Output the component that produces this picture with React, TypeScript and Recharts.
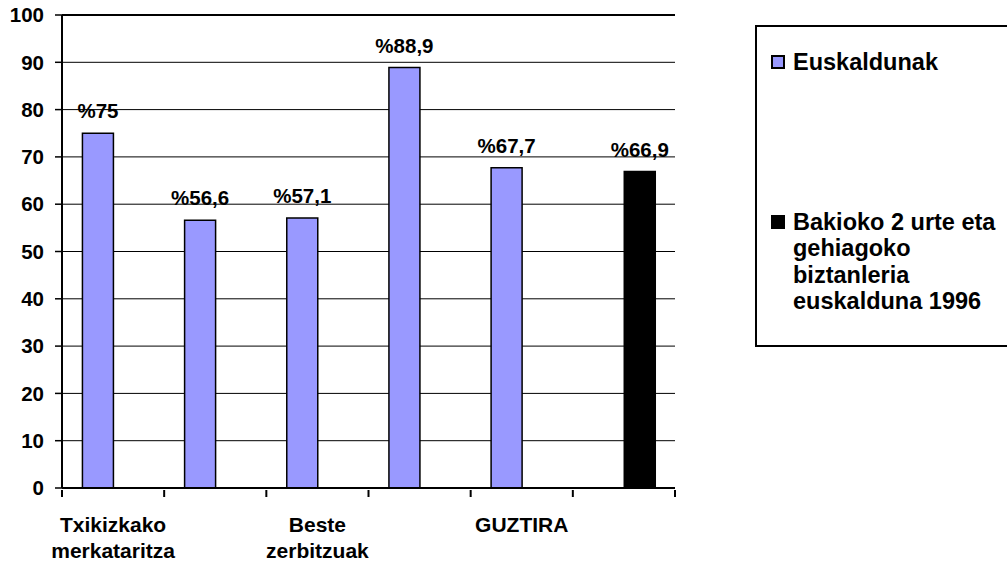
import { BarChart, Bar, XAxis, YAxis, CartesianGrid, LabelList, ReferenceLine } from 'recharts';

// category labels (only every other one carries text)
const categories = ['Txikizkako\nmerkataritza', '', 'Beste\nzerbitzuak', '', 'GUZTIRA', ''];
const euskaldunak = [75, 56.6, 57.1, 88.9, 67.7, null];
const bakioko1996 = [null, null, null, null, null, 66.9];
const yTicks = [0, 10, 20, 30, 40, 50, 60, 70, 80, 90, 100];

const series = [
  { key: 'euskaldunak', name: 'Euskaldunak', color: '#9999FF' },
  { key: 'bakioko', name: 'Bakioko 2 urte eta\ngehiagoko\nbiztanleria\neuskalduna 1996', color: '#000000' },
];

const data = categories.map((_, i) => ({ idx: i, euskaldunak: euskaldunak[i], bakioko: bakioko1996[i] }));

const FONT = '"Liberation Sans", Arial, sans-serif';
const CHART_W = 740;
const CHART_H = 562;
const MARGIN = { top: 15, right: 65, bottom: 0, left: 0 };
const Y_AXIS_W = 62;

const pct = (v: unknown) => (v == null ? '' : `%${String(v).replace('.', ',')}`);

function CategoryTick(props: any) {
  const { x, y, payload, index, width, visibleTicksCount } = props;
  const count = visibleTicksCount || categories.length;
  const plotW = width || CHART_W - MARGIN.left - MARGIN.right - Y_AXIS_W;
  const band = plotW / count;
  const lines = (categories[payload.value] || '').split('\n').filter(Boolean);
  return (
    <g>
      <line x1={x - band / 2} y1={y} x2={x - band / 2} y2={y + 7} stroke="#000" strokeWidth={2} />
      {index === count - 1 && (
        <line x1={x + band / 2} y1={y} x2={x + band / 2} y2={y + 7} stroke="#000" strokeWidth={2} />
      )}
      <text x={x} y={y + 42} textAnchor="middle" fill="#000"
        style={{ fontFamily: FONT, fontWeight: 700, fontSize: 21 }}>
        {lines.map((l, i) => (
          <tspan key={i} x={x} dy={i === 0 ? 0 : 26}>{l}</tspan>
        ))}
      </text>
    </g>
  );
}

function LegendBox() {
  return (
    <div style={{
      position: 'absolute', left: 755, top: 25, width: 270, height: 322, boxSizing: 'border-box',
      border: '2px solid #000', paddingTop: 22, paddingLeft: 14, fontFamily: FONT, fontWeight: 700,
      fontSize: 23.5, lineHeight: '26.5px', color: '#000',
    }}>
      {series.map((s, i) => (
        <div key={s.key} style={{ display: 'flex', alignItems: 'flex-start', marginTop: i === 0 ? 0 : 133 }}>
          <div style={{
            width: 14, height: 14, boxSizing: 'border-box', border: '2px solid #000', background: s.color,
            marginTop: 6, marginRight: 8, flexShrink: 0,
          }} />
          <div style={{ whiteSpace: 'pre-line' }}>{s.name}</div>
        </div>
      ))}
    </div>
  );
}

export default function App() {
  return (
    <div style={{ position: 'absolute', left: 0, top: 0, width: 1007, height: 562, overflow: 'hidden', background: '#fff' }}>
      <BarChart width={CHART_W} height={CHART_H} data={data} margin={MARGIN} barCategoryGap="20%" barGap={0}>
        <CartesianGrid vertical={false} stroke="#000" strokeWidth={1} />
        <XAxis dataKey="idx" type="category" interval={0} height={74} tickLine={false} tickSize={0}
          axisLine={{ stroke: '#000', strokeWidth: 2 }} tick={<CategoryTick />} />
        <YAxis domain={[0, 100]} ticks={yTicks} interval={0} width={Y_AXIS_W} tickSize={7} tickMargin={11}
          axisLine={{ stroke: '#000', strokeWidth: 2 }} tickLine={{ stroke: '#000', strokeWidth: 1.5 }}
          tick={{ fill: '#000', fontFamily: FONT, fontWeight: 700, fontSize: 20.5 }} />
        <YAxis yAxisId="frame" orientation="right" domain={[0, 100]} width={0} tick={false} tickLine={false}
          axisLine={{ stroke: '#000', strokeWidth: 2 }} />
        <ReferenceLine y={100} stroke="#000" strokeWidth={2} />
        {series.map((s) => (
          <Bar key={s.key} dataKey={s.key} name={s.name} fill={s.color} stroke="#000" strokeWidth={1.5}
            isAnimationActive={false}>
            <LabelList dataKey={s.key} position="top" offset={15} formatter={pct}
              style={{ fill: '#000', fontFamily: FONT, fontWeight: 700, fontSize: 20.5 }} />
          </Bar>
        ))}
      </BarChart>
      <LegendBox />
    </div>
  );
}
